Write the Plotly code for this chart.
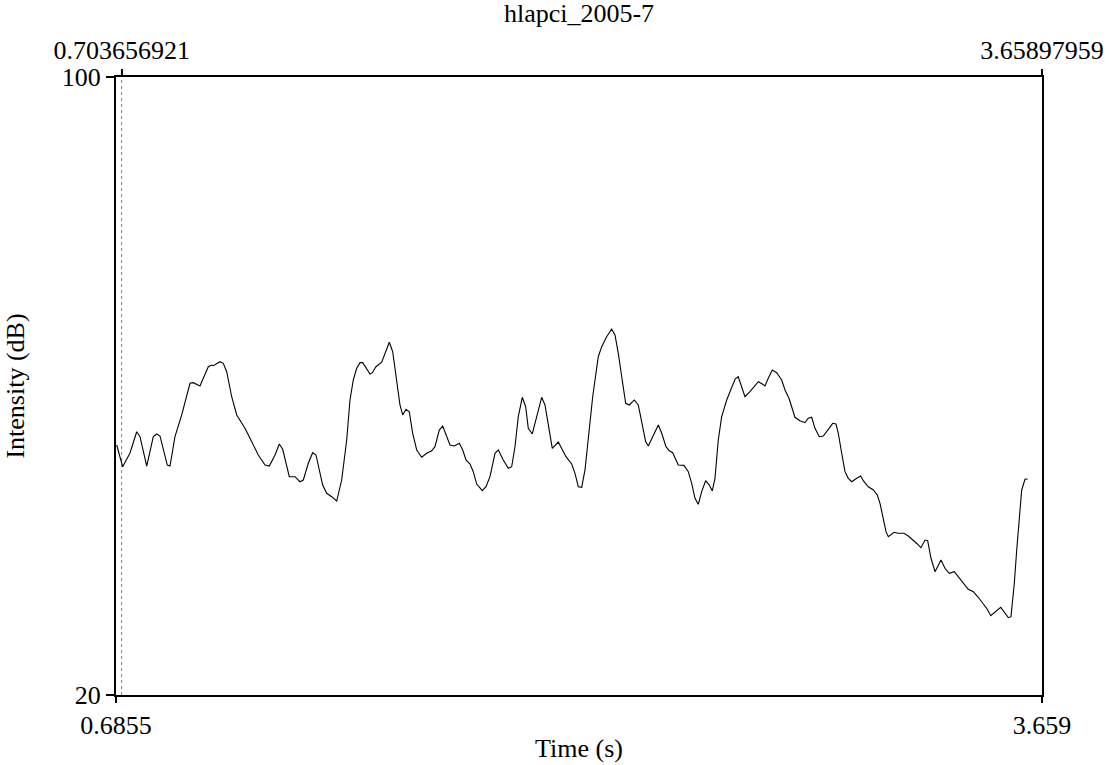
import plotly.graph_objects as go

chart_title = "hlapci_2005-7"
x_title = "Time (s)"
y_title = "Intensity (dB)"

time_s = [0.6877, 0.7070, 0.7305, 0.7520, 0.7626, 0.7841, 0.8053, 0.8162, 0.8268, 0.8502,
          0.8589, 0.8749, 0.8965, 0.9231, 0.9337, 0.9552, 0.9658, 0.9819, 0.9928, 0.9979,
          1.0194, 1.0300, 1.0410, 1.0570, 1.0731, 1.0997, 1.1158, 1.1424, 1.1640, 1.1777,
          1.1961, 1.2099, 1.2208, 1.2420, 1.2603, 1.2763, 1.2869, 1.3030, 1.3171, 1.3277,
          1.3492, 1.3621, 1.3781, 1.3942, 1.4102, 1.4263, 1.4369, 1.4475, 1.4584, 1.4690,
          1.4777, 1.4905, 1.5011, 1.5085, 1.5204, 1.5387, 1.5493, 1.5631, 1.5740, 1.5868,
          1.5974, 1.6061, 1.6167, 1.6273, 1.6382, 1.6511, 1.6671, 1.6832, 1.6992, 1.7098,
          1.7236, 1.7346, 1.7452, 1.7580, 1.7718, 1.7879, 1.7988, 1.8094, 1.8223, 1.8328,
          1.8437, 1.8617, 1.8736, 1.8864, 1.9025, 1.9131, 1.9291, 1.9452, 1.9561, 1.9667,
          1.9773, 1.9901, 2.0010, 2.0094, 2.0222, 2.0364, 2.0524, 2.0630, 2.0736, 2.0865,
          2.1057, 2.1166, 2.1305, 2.1488, 2.1594, 2.1700, 2.1809, 2.1915, 2.2021, 2.2162,
          2.2342, 2.2451, 2.2611, 2.2772, 2.2878, 2.2985, 2.3094, 2.3222, 2.3338, 2.3498,
          2.3626, 2.3736, 2.3864, 2.3948, 2.4057, 2.4269, 2.4378, 2.4516, 2.4622, 2.4731,
          2.4911, 2.5094, 2.5232, 2.5341, 2.5447, 2.5553, 2.5662, 2.5790, 2.5906, 2.6002,
          2.6089, 2.6195, 2.6304, 2.6465, 2.6593, 2.6741, 2.6837, 2.6946, 2.7052, 2.7213,
          2.7319, 2.7479, 2.7608, 2.7694, 2.7800, 2.7929, 2.8070, 2.8231, 2.8337, 2.8465,
          2.8658, 2.8818, 2.8979, 2.9085, 2.9194, 2.9300, 2.9438, 2.9567, 2.9728, 2.9869,
          2.9975, 3.0049, 3.0158, 3.0264, 3.0370, 3.0479, 3.0640, 3.0768, 3.0852, 3.1013,
          3.1173, 3.1301, 3.1388, 3.1494, 3.1581, 3.1655, 3.1838, 3.1976, 3.2159, 3.2297,
          3.2457, 3.2586, 3.2704, 3.2833, 3.2919, 3.3025, 3.3154, 3.3346, 3.3474, 3.3613,
          3.3773, 3.3901, 3.4062, 3.4223, 3.4383, 3.4544, 3.4705, 3.4814, 3.4943, 3.5080,
          3.5264, 3.5370, 3.5508, 3.5594, 3.5701, 3.5778, 3.5861, 3.5938, 3.6044, 3.6131]

intensity_db = [52.36, 49.55, 51.33, 54.08, 53.44, 49.64, 53.44, 53.79, 53.53, 49.77,
                49.64, 53.44, 56.25, 60.35, 60.43, 60.00, 61.00, 62.50, 62.72, 62.63,
                63.15, 62.94, 61.85, 58.61, 56.25, 54.52, 53.23, 51.07, 49.77, 49.64,
                51.07, 52.49, 51.81, 48.26, 48.26, 47.61, 47.83, 50.00, 51.37, 51.07,
                47.18, 46.11, 45.67, 45.11, 47.83, 53.01, 58.19, 60.78, 62.29, 63.02,
                63.02, 62.16, 61.55, 61.72, 62.50, 63.07, 64.23, 65.66, 64.44, 60.78,
                57.54, 56.25, 56.98, 56.67, 53.88, 51.72, 50.77, 51.29, 51.62, 52.14,
                54.30, 54.82, 53.66, 52.36, 52.23, 52.58, 51.72, 50.42, 49.90, 48.91,
                47.31, 46.45, 46.96, 48.26, 51.29, 51.72, 50.42, 49.35, 49.55, 52.14,
                56.03, 58.54, 57.32, 54.52, 53.79, 56.03, 58.54, 57.54, 54.73, 51.93,
                52.75, 51.93, 50.85, 49.90, 48.70, 46.96, 46.89, 49.13, 53.44, 58.61,
                63.79, 65.09, 66.38, 67.38, 66.60, 64.23, 61.20, 57.76, 57.54, 58.19,
                57.54, 55.17, 52.79, 52.23, 53.23, 54.95, 53.88, 52.14, 51.62, 51.37,
                49.77, 49.73, 48.91, 47.40, 45.46, 44.69, 46.32, 47.74, 47.18, 46.41,
                48.05, 53.01, 56.03, 58.19, 59.48, 60.94, 61.20, 59.91, 58.61, 59.26,
                59.83, 60.56, 60.26, 60.00, 61.00, 62.07, 61.72, 60.78, 59.48, 58.41,
                55.95, 55.51, 55.25, 55.82, 55.95, 54.52, 53.44, 53.53, 54.39, 55.17,
                55.08, 53.88, 51.29, 48.91, 48.05, 47.61, 48.05, 48.35, 47.74, 46.96,
                46.54, 45.89, 44.82, 42.65, 41.14, 40.49, 41.06, 40.93, 40.93, 40.58,
                40.06, 39.55, 39.07, 40.06, 39.97, 37.70, 35.96, 37.48, 36.40, 35.75,
                35.96, 35.31, 34.46, 33.68, 33.37, 32.65, 31.78, 31.22, 30.26, 30.78,
                31.35, 30.78, 30.01, 30.14, 34.46, 38.77, 43.08, 46.54, 47.92, 47.96]

x_range = [0.6855, 3.659]
y_range = [20, 100]
cursor_time = 0.703656921
bottom_ticks = [0.6855, 3.659]
bottom_labels = ["0.6855", "3.659"]
top_ticks = [0.703656921, 3.65897959]
top_labels = ["0.703656921", "3.65897959"]
y_ticks = [20, 100]
y_labels = ["20", "100"]

FONT = "Liberation Serif"
FS = 26

fig = go.Figure()
fig.add_trace(go.Scatter(x=[cursor_time, cursor_time], y=y_range, mode="lines",
                         line=dict(color="#808080", width=1, dash="dot"),
                         showlegend=False, hoverinfo="skip"))
fig.add_trace(go.Scatter(x=time_s, y=intensity_db, mode="lines",
                         line=dict(color="black", width=1.1),
                         showlegend=False))
fig.add_trace(go.Scatter(x=top_ticks, y=[None, None], xaxis="x2", yaxis="y",
                         mode="lines", showlegend=False, hoverinfo="skip"))

tickfont = dict(family=FONT, size=FS, color="black")

fig.update_layout(
    width=1109, height=765,
    margin=dict(l=116, r=67, t=77, b=70, autoexpand=False),
    paper_bgcolor="white", plot_bgcolor="white",
    font=dict(family=FONT, size=FS, color="black"),
    showlegend=False,
    title=dict(text=chart_title, x=0.5, xref="paper", y=0.995, yref="container",
               yanchor="top", font=dict(family=FONT, size=FS, color="black")),
    xaxis=dict(range=x_range, tickvals=bottom_ticks, ticktext=bottom_labels,
               ticks="outside", ticklen=6, tickwidth=1.5, tickcolor="black",
               showline=True, linecolor="black", linewidth=2, mirror=True,
               showgrid=False, zeroline=False, automargin=False, tickfont=tickfont,
               title=dict(text=x_title, standoff=0, font=tickfont)),
    xaxis2=dict(range=x_range, overlaying="x", side="top",
                tickvals=top_ticks, ticktext=top_labels,
                ticks="outside", ticklen=7, tickwidth=1.5, tickcolor="black",
                showline=False, showgrid=False, zeroline=False, automargin=False,
                tickfont=tickfont),
    yaxis=dict(range=y_range, tickvals=y_ticks, ticktext=y_labels,
               ticks="outside", ticklen=8, tickwidth=1.5, tickcolor="black",
               showline=True, linecolor="black", linewidth=2, mirror=True,
               showgrid=False, zeroline=False, ticklabelstandoff=0, automargin=False,
               tickfont=tickfont,
               title=dict(text=y_title, standoff=30, font=tickfont)),
)

fig.write_html("out.html")
